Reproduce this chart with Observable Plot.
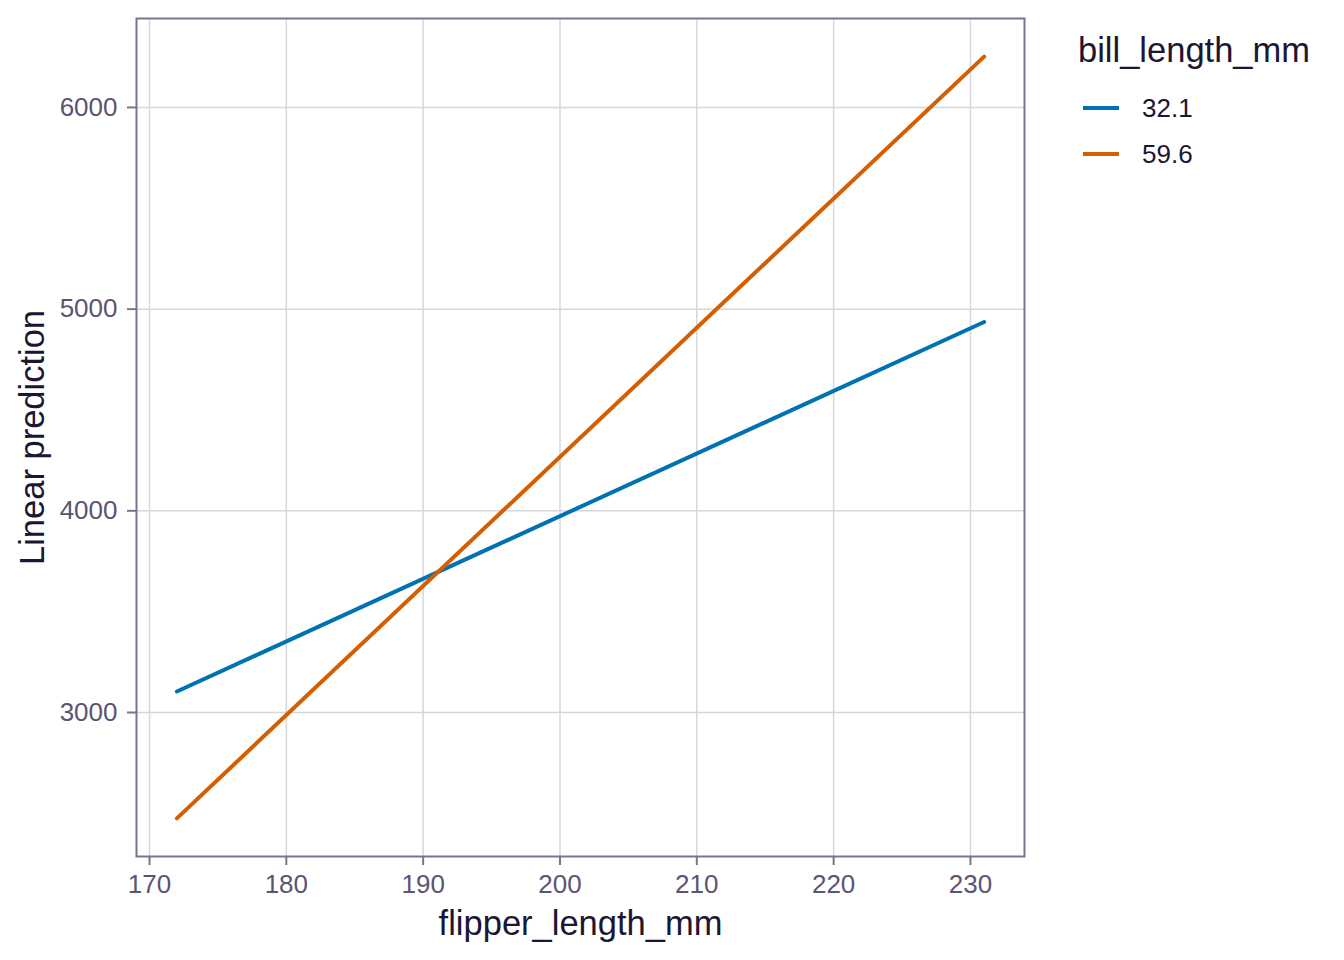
<!DOCTYPE html>
<html>
<head>
<meta charset="utf-8">
<script src="https://cdn.jsdelivr.net/npm/d3@7"></script>
<script src="https://cdn.jsdelivr.net/npm/@observablehq/plot@0.6"></script>
<style>
  html, body { margin: 0; padding: 0; background: #fff; }
  #wrap { position: relative; width: 1344px; height: 960px; font-family: "Liberation Sans", Arial, sans-serif; }
  #legend { position: absolute; left: 1078px; top: 30px; color: #1a1633; }
  #legend .title { font-size: 34.5px; line-height: 40px; margin-bottom: 15px; }
  #legend .item { display: flex; align-items: center; height: 46px; font-size: 26px; }
  #legend .sw { width: 36px; height: 4px; margin-left: 5px; margin-right: 23px; }
</style>
</head>
<body>
<div id="wrap"><div id="legend"></div></div>
<script>
const flipperLength = [172, 231];
const billLevels = ["32.1", "59.6"];
const predLow = [3104, 4936];
const predHigh = [2475, 6252];
const colors = ["#0072B2", "#D55E00"];
const xTicks = [170, 180, 190, 200, 210, 220, 230];
const yTicks = [3000, 4000, 5000, 6000];

const rows = [];
flipperLength.forEach((f, i) => {
  rows.push({flipper: f, pred: predLow[i], bill: billLevels[0]});
  rows.push({flipper: f, pred: predHigh[i], bill: billLevels[1]});
});

const axisColor = "#7a7490";
const tickText = "#5b5473";
const titleColor = "#1a1633";

const chart = Plot.plot({
  width: 1344,
  height: 960,
  marginLeft: 136,
  marginRight: 320,
  marginTop: 18,
  marginBottom: 104,
  style: {fontFamily: "Liberation Sans, Arial, sans-serif", background: "#fff"},
  x: {domain: [169.05, 233.95]},
  y: {domain: [2286, 6441]},
  color: {domain: billLevels, range: colors},
  marks: [
    Plot.gridX(xTicks, {stroke: "#d6d6dc", strokeOpacity: 1, strokeWidth: 1.5}),
    Plot.gridY(yTicks, {stroke: "#d6d6dc", strokeOpacity: 1, strokeWidth: 1.5}),
    Plot.line(rows, {x: "flipper", y: "pred", z: "bill", stroke: "bill", strokeWidth: 4}),
    Plot.frame({stroke: axisColor, strokeWidth: 2}),
    Plot.axisX(xTicks, {tickSize: 9, tickPadding: 9, fontSize: 26, stroke: axisColor, strokeWidth: 2, color: tickText, label: null, tickFormat: d => String(d)}),
    Plot.axisY(yTicks, {tickSize: 9, tickPadding: 10, fontSize: 26, stroke: axisColor, strokeWidth: 2, color: tickText, label: null, tickFormat: d => String(d)}),
    Plot.text(["flipper_length_mm"], {frameAnchor: "bottom", dy: 78, fontSize: 34.5, fill: titleColor}),
    Plot.text(["Linear prediction"], {frameAnchor: "left", dx: -104, rotate: -90, textAnchor: "middle", fontSize: 34.5, fill: titleColor})
  ]
});
document.getElementById("wrap").prepend(chart);

const legend = document.getElementById("legend");
const t = document.createElement("div");
t.className = "title";
t.textContent = "bill_length_mm";
legend.appendChild(t);
billLevels.forEach((b, i) => {
  const item = document.createElement("div");
  item.className = "item";
  const sw = document.createElement("div");
  sw.className = "sw";
  sw.style.background = colors[i];
  const lab = document.createElement("span");
  lab.textContent = b;
  item.appendChild(sw);
  item.appendChild(lab);
  legend.appendChild(item);
});
</script>
</body>
</html>
